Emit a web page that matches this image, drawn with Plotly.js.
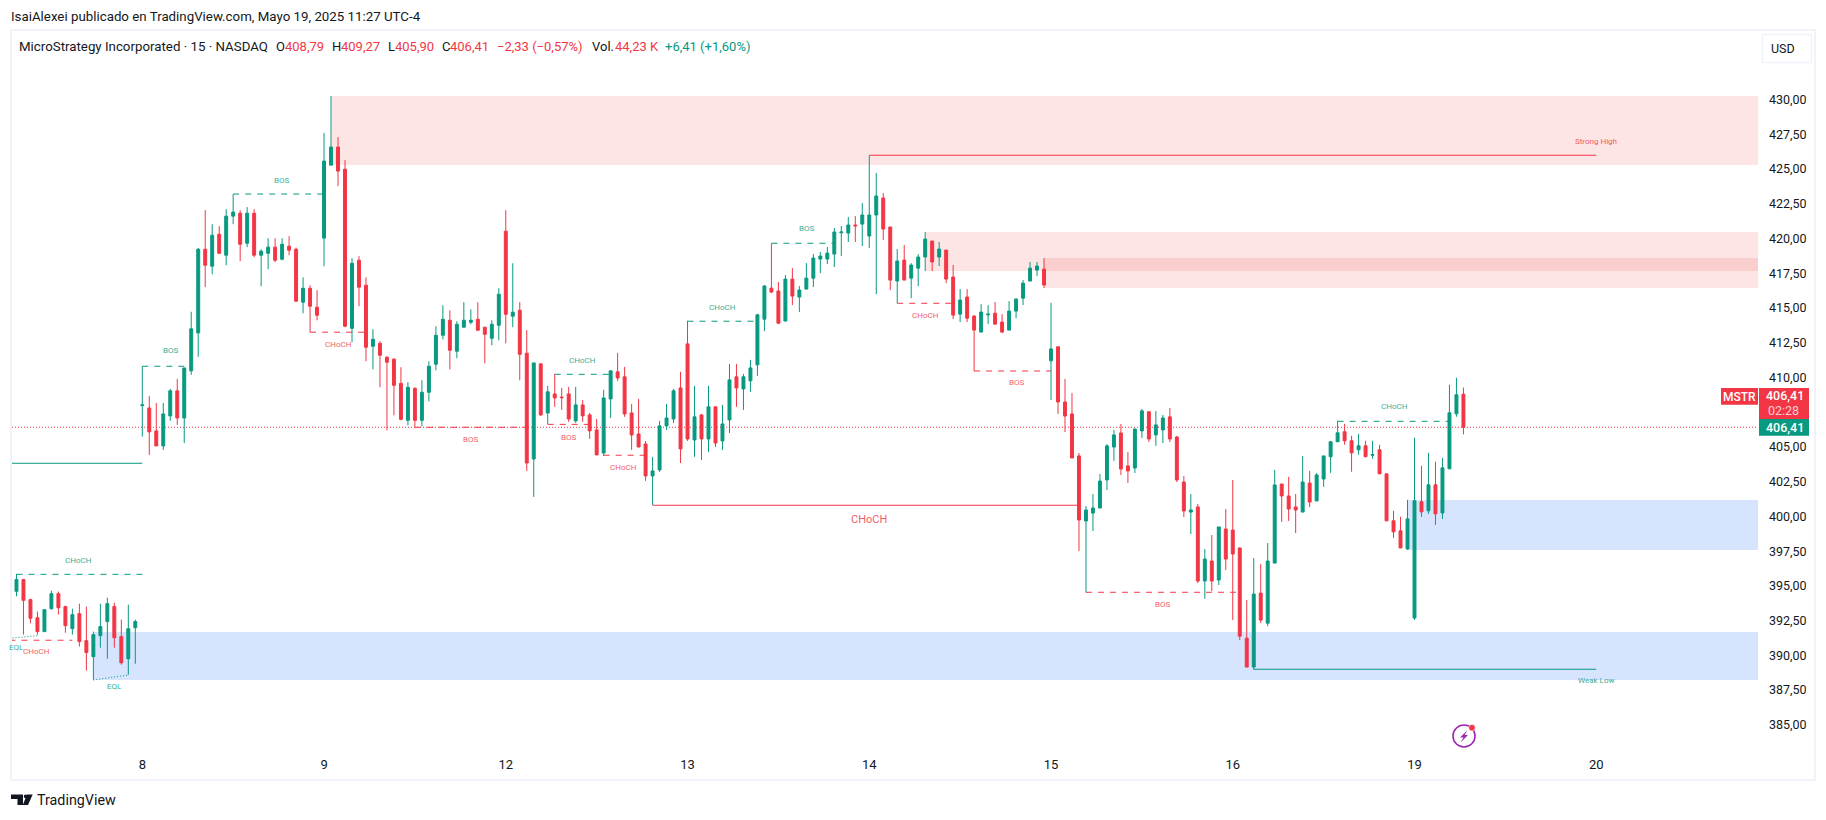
<!DOCTYPE html>
<html><head><meta charset="utf-8">
<script src="https://cdn.plot.ly/plotly-3.0.1.min.js"></script>
<style>html,body{margin:0;padding:0;background:#fff}#c{width:1826px;height:820px}</style>
</head><body><div id="c"></div>
<script>
// ---------- price data (15 min bars, bar 0 = first bar of day "8") ----------
const open = [393,394.61,395.45,394.01,392.71,391.71,393.36,394.44,393.51,391.92,393.0,391.06,389.91,391.42,392.43,393.51,391.35,389.76,391.99,
407.97,407.8,406.15,405.07,407.23,409.03,407.08,410.47,413.2,419.22,418.0,420.3,418.79,421.6,421.81,419.65,421.81,418.79,418.93,419.37,418.5,419.44,
419.22,415.41,416.41,415.05,420.02,425.27,426.57,424.98,413.53,418.43,416.63,412.24,412.45,411.45,411.31,409.57,406.91,409.21,406.91,408.93,410.95,413.03,
414.11,411.88,413.61,413.97,414.18,413.61,412.81,413.75,420.52,414.4,414.83,411.74,404.13,410.97,407.44,408.81,408.58,408.81,406.87,408.02,407.3,406.22,
404.56,408.45,410.4,410.04,407.44,405.93,405.21,402.91,403.34,406.51,407.01,409.24,412.41,405.5,407.3,405.57,407.88,405.43,406.94,410.04,409.17,409.75,410.9,
414.19,416.42,416.21,414.05,417.07,415.78,416.35,417.14,418.51,418.51,418.87,420.4,420.38,420.96,421.03,420.17,421.68,422.9,420.82,416.93,418.44,417.14,417.86,418.66,419.81,418.66,419.16,417.22,414.55,415.78,414.41,413.26,414.5,414.62,413.98,413.4,414.77,415.7,416.93,417.72,417.79,
411.19,412.2,408.23,407.37,404.35,399.67,400.24,400.6,402.62,404.99,406.0,403.63,403.48,406.15,407.52,405.86,406.22,407.16,405.71,402.47,400.31,400.68,395.35,396.79,395.42,399.09,399.02,397.72,391.24,389.16,394.48,392.32,396.64,402.33,401.47,400.68,400.31,402.4,401.11,402.69,
404.29,405.37,406.09,405.44,404.79,405.08,404.4,404.79,403.06,399.68,398.96,397.66,392.69,401.05,400.4,402.27,400.25,403.42,407.38,408.79];
const high = [394.66,395.86,395.45,394.08,393.15,393.29,394.66,394.59,393.58,393.36,393.72,393.51,391.71,393.72,394.15,393.79,392.57,393.65,392.57,
410.8,408.67,408.16,408.16,409.17,409.89,410.68,414.72,419.3,422.03,421.02,420.88,422.1,423.18,422.03,422.25,422.1,419.22,420.01,420.01,420.01,420.16,
419.34,417.2,416.63,416.27,427.57,430.24,427.29,425.63,418.57,418.72,417.2,413.47,412.6,411.52,411.38,410.73,409.65,409.29,409.79,411.16,413.68,415.19,
414.83,414.04,415.41,414.9,415.41,413.61,414.11,416.41,422.03,418.21,415.41,413.4,411.04,411.04,409.39,410.25,409.24,409.32,409.32,408.38,407.44,407.01,
409.1,410.47,411.76,410.76,408.09,408.45,405.43,404.28,406.87,408.09,409.17,410.4,414.07,409.39,407.37,409.39,407.88,408.02,410.97,410.97,410.25,411.26,414.57,
416.64,419.64,416.86,417.36,417.86,416.57,418.22,418.87,419.02,419.38,420.74,420.89,421.54,421.61,422.54,425.98,424.7,423.26,420.82,419.23,419.52,418.22,418.87,420.46,419.81,419.74,419.16,418.08,416.35,416.35,414.48,415.27,415.2,415.42,414.55,415.49,415.7,417.0,418.3,418.3,418.58,
415.36,412.2,409.89,408.88,404.56,400.75,401.61,403.05,405.21,406.22,406.65,404.63,406.29,407.73,407.59,407.59,407.3,407.8,405.79,402.9,401.61,400.89,397.65,398.66,399.24,400.53,402.62,397.79,393.98,397.0,396.57,398.08,403.34,402.33,402.84,401.61,404.35,403.27,403.12,404.35,
405.37,406.88,406.66,405.8,405.94,405.44,405.44,405.15,403.06,400.4,399.97,401.19,405.65,403.64,404.57,403.93,404.21,409.47,409.97,409.27];
const low = [391.37,394.25,391.49,392.31,391.49,391.71,393.29,392.93,391.63,391.49,390.63,388.9,388.25,390.55,389.76,390.55,389.33,388.61,389.4,
405.74,404.42,405.07,404.78,406.87,406.58,405.28,410.18,411.48,416.49,417.42,418.86,418.07,421.02,418.36,419.37,418.65,416.56,417.78,418.29,418.43,418.79,
415.48,414.61,413.25,414.11,418.0,425.27,423.76,413.61,412.53,415.12,411.16,410.58,409.29,406.19,407.27,406.91,406.55,406.41,406.48,408.28,410.51,412.74,
410.58,411.38,413.61,413.82,413.39,411.01,412.31,412.67,412.45,413.61,409.79,403.27,401.4,407.23,406.63,407.88,407.66,406.8,406.72,406.8,405.57,404.42,
404.35,407.08,409.75,407.16,404.78,404.99,402.55,400.82,403.2,406.22,406.72,403.84,405.43,404.28,404.06,404.64,405.0,404.78,406.0,407.88,407.66,408.96,410.11,
413.33,416.06,413.83,414.05,415.2,414.7,416.35,416.5,417.5,418.15,417.94,418.73,419.74,419.74,419.45,419.3,415.99,419.88,416.28,415.32,417.0,415.7,416.57,417.65,417.65,418.01,416.78,414.19,413.98,413.98,410.45,413.26,413.83,413.83,413.18,413.4,414.26,415.2,416.93,417.29,416.42,
408.38,407.37,406.07,404.2,397.5,394.53,398.95,400.6,401.9,403.99,402.98,402.4,403.12,405.64,405.35,405.07,405.28,405.35,402.47,399.95,398.73,395.2,394.07,394.62,395.06,396.14,392.54,391.1,389.16,388.99,392.32,392.11,396.64,399.6,399.67,398.8,400.31,400.67,401.11,402.12,
403.13,405.37,405.15,403.21,404.43,404.29,404.14,403.06,399.68,398.45,397.73,397.59,392.55,399.97,400.18,399.39,399.82,403.42,407.17,405.90];
const close = [393,395.45,393.96,392.67,391.71,393.29,394.44,393.43,392.14,392.93,390.99,390.2,391.49,392.07,393.72,391.27,389.47,391.92,392.43,
408.02,406.08,405.07,407.37,409.03,407.08,410.68,413.49,419.22,418.07,420.23,418.93,421.6,421.89,419.58,421.81,418.79,419.08,419.37,418.43,419.58,419.15,
415.48,416.41,415.12,414.47,425.56,426.57,424.84,413.68,418.21,416.49,412.17,412.74,411.59,411.09,409.43,406.98,409.29,406.91,408.93,410.8,413.03,414.18,
411.95,413.82,414.11,414.11,413.39,413.1,413.82,415.98,414.54,414.69,411.66,403.84,411.04,407.3,408.96,408.52,408.54,407.01,408.02,407.23,406.15,404.42,
408.52,410.47,409.96,407.37,405.86,404.99,402.91,403.27,406.51,407.08,409.03,404.85,405.57,407.16,405.57,407.88,405.28,406.65,409.82,409.24,410.04,410.68,414.5,
416.57,416.14,413.9,417.07,415.85,416.28,417.14,418.58,418.73,418.94,420.46,420.46,420.96,420.9,421.68,421.68,423.05,420.67,417.0,418.37,417.0,418.08,418.66,419.95,418.3,419.23,417.07,414.48,415.56,414.26,413.4,414.7,414.55,413.83,413.26,414.77,415.63,416.78,417.86,418.01,416.64,
412.05,408.23,407.22,404.2,399.74,400.46,400.6,402.54,405.07,405.86,403.41,403.27,406.29,407.59,405.57,406.58,407.08,405.57,402.62,400.39,400.46,395.35,396.93,395.35,399.24,396.93,397.29,391.38,389.16,394.41,392.54,396.79,402.26,401.47,400.53,400.46,402.47,401.03,402.98,404.35,
405.37,406.01,405.44,404.57,405.08,404.29,404.45,403.06,399.68,398.89,397.73,399.82,401.12,400.33,402.27,400.18,403.49,407.45,408.75,406.41];
const barIndex = open.map((_, k) => k - 19);

// ---------- axis labels ----------
const dayBars = [0, 26, 52, 78, 104, 130, 156, 182, 208];
const dayLabels = ['8', '9', '12', '13', '14', '15', '16', '19', '20'];
const priceTicks = [385, 387.5, 390, 392.5, 395, 397.5, 400, 402.5, 405, 410, 412.5, 415, 417.5, 420, 422.5, 425, 427.5, 430];
const priceTickLabels = ['385,00', '387,50', '390,00', '392,50', '395,00', '397,50', '400,00', '402,50', '405,00', '410,00', '412,50', '415,00', '417,50', '420,00', '422,50', '425,00', '427,50', '430,00'];

// ---------- supply / demand zones ----------
const zoneStart = [27.1, 112.1, 129, -7, 181];
const zoneTop = [430.24, 420.46, 418.59, 391.68, 401.18];
const zoneBottom = [425.28, 417.65, 416.43, 388.23, 397.58];
const zoneSide = ['supply', 'supply', 'supply', 'demand', 'demand'];

// ---------- structure levels ----------
const levelStart = [-19, 0, 13, 24, 39, 59, 58, 66, 73, 78, 90, 108, 119, 135, 171, -18, -19, 104, 159, -19, -7];
const levelEnd = [0, 6, 26, 32, 56, 67, 64, 72, 134, 88, 99, 116, 130, 156.6, 187, 0, -10, 208, 208, -15, -2];
const levelFrom = [403.82, 410.8, 423.19, 413.25, 406.41, 410.22, 406.62, 404.4, 400.8, 414.04, 419.65, 415.33, 410.46, 394.54, 406.84, 395.83, 391.09, 425.98, 389.0, 391.23, 388.23];
const levelTo = [403.82, 410.8, 423.19, 413.25, 406.41, 410.22, 406.62, 404.4, 400.8, 414.04, 419.65, 415.33, 410.46, 394.54, 406.84, 395.83, 391.09, 425.98, 389.0, 391.42, 388.59];
const levelBias = ['up', 'up', 'up', 'down', 'down', 'up', 'down', 'down', 'down', 'up', 'up', 'down', 'down', 'down', 'up', 'up', 'down', 'down', 'up', 'up', 'up'];
const levelKind = ['solid', 'dash', 'dash', 'dash', 'dash', 'dash', 'dash', 'dash', 'solid', 'dash', 'dash', 'dash', 'dash', 'dash', 'dash', 'dash', 'dash', 'solid', 'solid', 'dot', 'dot'];

// ---------- structure labels ----------
const tagText = ['BOS', 'BOS', 'CHoCH', 'BOS', 'CHoCH', 'BOS', 'CHoCH', 'CHoCH', 'CHoCH', 'BOS', 'CHoCH', 'BOS', 'BOS', 'CHoCH', 'CHoCH', 'CHoCH', 'EQL', 'EQL', 'Strong High', 'Weak Low'];
const tagBar = [3.98, 19.9, 28.1, 46.9, 63, 60.9, 68.9, 104, 83, 95, 112.1, 125, 145.9, 179.2, -9.1, -15.1, -18, -4, 208, 208];
const tagPrice = [411.9, 424.2, 412.4, 405.5, 411.25, 405.7, 403.55, 399.75, 415.06, 420.68, 414.42, 409.6, 393.63, 407.87, 396.86, 390.25, 390.54, 387.73, 427.0, 388.16];
const tagBias = ['up', 'up', 'down', 'down', 'up', 'down', 'down', 'down', 'up', 'up', 'down', 'down', 'down', 'up', 'up', 'down', 'up', 'up', 'down', 'up'];

// ---------- header ----------
const lastPrice = 406.41;
const pageTitle = 'IsaiAlexei publicado en TradingView.com, Mayo 19, 2025 11:27 UTC-4';
const legendText = ['MicroStrategy Incorporated · 15 · NASDAQ', 'O', '408,79', 'H', '409,27', 'L', '405,90', 'C', '406,41', '−2,33 (−0,57%)', 'Vol.', '44,23 K', '+6,41 (+1,60%)'];
const legendTone = ['ink', 'ink', 'down', 'ink', 'down', 'ink', 'down', 'ink', 'down', 'down', 'ink', 'down', 'up'];

// ---------- layout ----------
const UP = '#089981', DOWN = '#F23645', INK = '#131722', FRAME = '#F0F3FA';
const L = 12, R = 1758, T = 31, B = 746;
const legendX = [19.4, 275.5, 284.7, 332, 341, 388, 395, 442, 450, 497, 592, 615, 665];
const fx = p => (p - L) / (R - L), fy = p => (B - p) / (B - T);
const tone = k => k === 'up' ? UP : k === 'down' ? DOWN : INK;

const shapes = [];
zoneSide.forEach((s, i) => shapes.push({
  type: 'rect', layer: 'below', xref: 'x', yref: 'y', x0: zoneStart[i], x1: 240, y0: zoneBottom[i], y1: zoneTop[i],
  line: {width: 0}, fillcolor: s === 'supply' ? 'rgba(242,54,54,0.13)' : 'rgba(27,105,244,0.18)'
}));
shapes.push({type: 'line', layer: 'below', xref: 'paper', yref: 'y', x0: 0, x1: 1, y0: lastPrice, y1: lastPrice, line: {color: DOWN, width: 1, dash: '1px,2px'}});
levelBias.forEach((b, i) => shapes.push({
  type: 'line', layer: 'below', xref: 'x', yref: 'y', x0: levelStart[i], x1: levelEnd[i], y0: levelFrom[i], y1: levelTo[i],
  line: {color: tone(b), width: 1, dash: levelKind[i] === 'dash' ? '6px,6px' : levelKind[i] === 'dot' ? '1px,2px' : 'solid'}
}));
const box = (x0, y0, x1, y1, o) => Object.assign({type: 'rect', xref: 'paper', yref: 'paper', x0: fx(x0), x1: fx(x1), y0: fy(y0), y1: fy(y1), line: {width: 0}}, o);
const poly = (pts, fill) => ({type: 'path', xref: 'paper', yref: 'paper', fillcolor: fill, line: {width: 0},
  path: 'M' + pts.map(p => fx(p[0]) + ',' + fy(p[1])).join('L') + 'Z'});
shapes.push(box(11, 30, 1815, 780, {line: {color: FRAME, width: 2}, layer: 'below'}));
shapes.push(box(1762.5, 34.5, 1811.5, 62.5, {line: {color: FRAME, width: 1.5}, fillcolor: '#fff'}));
shapes.push(box(1721, 388, 1758, 404.7, {fillcolor: DOWN}));
shapes.push(box(1759, 388, 1809, 419, {fillcolor: DOWN}));
shapes.push(box(1759, 419, 1809, 435.7, {fillcolor: UP}));
// lightning badge
shapes.push({type: 'circle', xref: 'paper', yref: 'paper', x0: fx(1453), x1: fx(1475), y0: fy(725), y1: fy(747), line: {color: '#9C27B0', width: 1.6}});
shapes.push(poly([[1467.5, 730], [1460, 737.5], [1463.5, 737.5], [1460.5, 742.5], [1468, 735], [1464.5, 735]], '#9C27B0'));
shapes.push({type: 'circle', xref: 'paper', yref: 'paper', x0: fx(1468.8), x1: fx(1475.2), y0: fy(724.5), y1: fy(730.9), fillcolor: DOWN, line: {color: '#fff', width: 0.5}});
// TradingView mark
shapes.push(poly([[11, 794.5], [23, 794.5], [23, 805], [17.5, 805], [17.5, 799], [11, 799]], '#131722'));
shapes.push(poly([[27, 794.5], [32.7, 794.5], [28, 805], [22.8, 805]], '#131722'));
shapes.push({type: 'circle', xref: 'paper', yref: 'paper', x0: fx(23.8), x1: fx(27.4), y0: fy(794.6), y1: fy(798.2), fillcolor: '#131722', line: {width: 0}});

const anns = [];
const pxText = (x, y, text, size, color, anchor, weight) => anns.push({
  xref: 'paper', yref: 'paper', x: fx(x), y: fy(y), text, showarrow: false, xanchor: anchor || 'left', yanchor: 'middle',
  borderpad: 0, borderwidth: 0, font: {family: 'Roboto', size, color, weight: weight || 400}
});
pxText(11, 17, pageTitle, 13.3, INK);
legendText.forEach((t, i) => pxText(legendX[i], 46.6, t, i === 0 ? 13.3 : 13, tone(legendTone[i])));
pxText(1783, 48, 'USD', 12.5, INK, 'center');
pxText(1739.5, 396.5, 'MSTR', 12, '#fff', 'center', 500);
pxText(1785, 396, '406,41', 12.5, '#fff', 'center', 500);
pxText(1783, 410, '02:28', 12.5, 'rgba(255,255,255,0.75)', 'center');
pxText(1785, 427, '406,41', 12.5, '#fff', 'center', 500);
pxText(36.5, 800, 'TradingView', 14.3, INK);
tagText.forEach((t, i) => anns.push({
  xref: 'x', yref: 'y', x: tagBar[i], y: tagPrice[i], text: t, showarrow: false, xanchor: 'center', yanchor: 'middle',
  borderpad: 0, opacity: 0.8, font: {family: 'Roboto', size: tagBar[i] === 104 ? 11 : 8, color: tone(tagBias[i])}
}));

const data = [{
  type: 'candlestick', x: barIndex, open, high, low, close, hoverinfo: 'skip', whiskerwidth: 0,
  increasing: {line: {color: UP, width: 1}, fillcolor: UP},
  decreasing: {line: {color: DOWN, width: 1}, fillcolor: DOWN}
}];
const layout = {
  width: 1826, height: 820, paper_bgcolor: '#fff', plot_bgcolor: '#fff', showlegend: false, boxgap: 0.4, dragmode: false,
  margin: {l: L, r: 1826 - R, t: T, b: 820 - B, pad: 0},
  xaxis: {type: 'linear', range: [-18.64, 231.14], tickvals: dayBars, ticktext: dayLabels, showgrid: false, zeroline: false, showline: false,
    ticks: '', ticklabelstandoff: 9, tickfont: {family: 'Roboto', size: 13, color: INK}, rangeslider: {visible: false}},
  yaxis: {type: 'linear', side: 'right', range: [383.48, 434.92], tickvals: priceTicks, ticktext: priceTickLabels, showgrid: false, zeroline: false, showline: false,
    ticks: '', ticklabelstandoff: 10, ticklabelshift: -1.5, tickfont: {family: 'Roboto', size: 12.5, color: INK}},
  shapes, annotations: anns
};
Plotly.newPlot('c', data, layout, {staticPlot: true, displayModeBar: false});
</script></body></html>
